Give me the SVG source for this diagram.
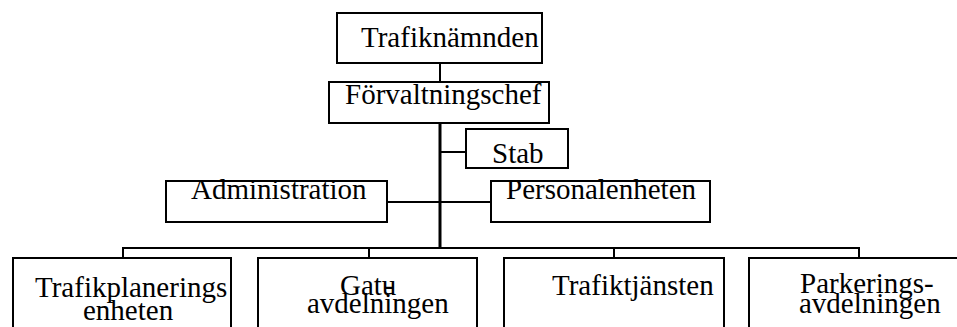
<svg xmlns="http://www.w3.org/2000/svg" width="957" height="327" viewBox="0 0 957 327">
<style>
.box{fill:#fff;stroke:#000;stroke-width:2}
.t{font-family:"Liberation Serif","Times New Roman",serif;font-size:29px;fill:#000}
.c{stroke:#000;stroke-width:2;fill:none}
.trunk{stroke:#000;stroke-width:3;fill:none}
</style>
<rect width="957" height="327" fill="#fff"/>
<g id="connectors">
<line class="c" x1="440" y1="63" x2="440" y2="82"/>
<line class="trunk" x1="440" y1="123" x2="440" y2="249"/>
<line class="c" x1="440" y1="152" x2="466" y2="152"/>
<line class="c" x1="387" y1="202" x2="491" y2="202"/>
<line class="c" x1="123" y1="248" x2="859" y2="248"/>
<line class="c" x1="123" y1="247" x2="123" y2="258"/>
<line class="c" x1="369" y1="247" x2="369" y2="258"/>
<line class="c" x1="614" y1="247" x2="614" y2="258"/>
<line class="c" x1="859" y1="247" x2="859" y2="258"/>
</g>
<g id="trafiknamnden"><rect class="box" x="337" y="13" width="205" height="50"/><text class="t" x="361" y="47">Trafiknämnden</text></g>
<g id="forvaltningschef"><rect class="box" x="329" y="82" width="220" height="41"/><text class="t" x="345" y="104">Förvaltningschef</text></g>
<g id="stab"><rect class="box" x="466" y="129" width="102" height="39"/><text class="t" x="492" y="163">Stab</text></g>
<g id="administration"><rect class="box" x="166" y="181" width="221" height="41"/><text class="t" x="191" y="199">Administration</text></g>
<g id="personalenheten"><rect class="box" x="491" y="181" width="219" height="41"/><text class="t" x="506" y="199">Personalenheten</text></g>
<g id="trafikplanering"><rect class="box" x="13" y="258" width="218" height="80"/><text class="t" x="35" y="297">Trafikplanerings</text><text class="t" x="83" y="320">enheten</text></g>
<g id="gatu"><rect class="box" x="258" y="258" width="219" height="80"/><text class="t" x="340" y="295">Gatu<tspan dx="-12">-</tspan></text><text class="t" x="307" y="313">avdelningen</text></g>
<g id="trafiktjansten"><rect class="box" x="504" y="258" width="220" height="80"/><text class="t" x="552" y="295">Trafiktjänsten</text></g>
<g id="parkering"><rect class="box" x="749" y="258" width="230" height="80"/><text class="t" x="800" y="293">Parkerings-</text><text class="t" x="799" y="313">avdelningen</text></g>
</svg>
